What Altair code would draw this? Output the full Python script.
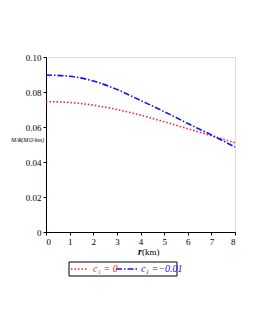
import altair as alt
import pandas as pd

r_vals = [0, 1, 2, 3, 4, 5, 6, 7, 8]
red_vals = [0.0745, 0.0740, 0.0725, 0.0700, 0.0668, 0.0630, 0.0590, 0.0550, 0.0510]
blue_vals = [0.0897, 0.0890, 0.0863, 0.0815, 0.0752, 0.0688, 0.0620, 0.0555, 0.0485]
series_names = ["c1 = 0", "c1 = -0.01"]
y_ticks = [0, 0.02, 0.04, 0.06, 0.08, 0.10]
x_ticks = [0, 1, 2, 3, 4, 5, 6, 7, 8]

rows = []
for r, a, b in zip(r_vals, red_vals, blue_vals):
    rows.append({"r": r, "v": a, "s": series_names[0]})
    rows.append({"r": r, "v": b, "s": series_names[1]})
df = pd.DataFrame(rows)

FONT = "Liberation Serif, Times New Roman, serif"

x = alt.X("r:Q", scale=alt.Scale(domain=[0, 8], nice=False),
          axis=alt.Axis(values=x_ticks, title=None, grid=False, labelFont=FONT,
                        labelFontSize=9, labelColor="black", domainColor="black",
                        tickColor="black", tickSize=3, labelPadding=2))
y = alt.Y("v:Q", scale=alt.Scale(domain=[0, 0.1], nice=False),
          axis=alt.Axis(values=y_ticks, title=None, grid=False, labelFont=FONT,
                        labelFontSize=9, labelColor="black", domainColor="black",
                        tickColor="black", tickSize=3, labelPadding=2,
                        labelExpr="datum.value == 0 ? '0' : format(datum.value, '.2f')"))

red = alt.Chart(df[df.s == series_names[0]]).mark_line(
    color="#ff2020", strokeDash=[1.5, 2], strokeWidth=1.6, interpolate="monotone"
).encode(x=x, y=y)
blue = alt.Chart(df[df.s == series_names[1]]).mark_line(
    color="#1010ff", strokeDash=[6, 2, 1.5, 2], strokeWidth=1.6, interpolate="monotone"
).encode(x=x, y=y)

one = pd.DataFrame({"a": [0]})
base = alt.Chart(one)

xtitle_r = base.mark_text(text="r", font=FONT, fontSize=10, fontStyle="italic",
                          fontWeight="bold", align="right", baseline="middle",
                          color="black").encode(x=alt.value(96), y=alt.value(195))
xtitle_km = base.mark_text(text=" (km)", font=FONT, fontSize=9, align="left",
                           baseline="middle", color="black").encode(x=alt.value(96), y=alt.value(195))
ytitle = base.mark_text(text="M/R(M\u2299/km)", font=FONT, fontSize=6, fontStyle="italic",
                        align="left", baseline="middle", color="black").encode(
    x=alt.value(-35), y=alt.value(83))

leg_box = base.mark_rect(fill="white", stroke="black", strokeWidth=1).encode(
    x=alt.value(23), x2=alt.value(131), y=alt.value(205), y2=alt.value(219))
leg_red = base.mark_rule(color="#ff2020", strokeDash=[1.5, 2], strokeWidth=1.6).encode(
    x=alt.value(25), x2=alt.value(41), y=alt.value(212))
leg_blue = base.mark_rule(color="#1010ff", strokeDash=[6, 2, 1.5, 2], strokeWidth=1.6).encode(
    x=alt.value(70), x2=alt.value(91), y=alt.value(212))
leg_red_t = base.mark_text(text="c\u2081 = 0", font=FONT, fontSize=10, fontStyle="italic",
                           align="left", baseline="middle", color="#ff2020").encode(
    x=alt.value(47), y=alt.value(212))
leg_blue_t = base.mark_text(text="c\u2081 =\u22120.01", font=FONT, fontSize=10, fontStyle="italic",
                            align="left", baseline="middle", color="#1010ff").encode(
    x=alt.value(95), y=alt.value(212))

chart = alt.layer(red, blue, xtitle_r, xtitle_km, ytitle, leg_box, leg_red, leg_blue,
                  leg_red_t, leg_blue_t).properties(
    width=189, height=175,
    autosize=alt.AutoSizeParams(type="none"),
    padding={"left": 38, "top": 49, "right": 12, "bottom": 90},
).configure_view(stroke="black", strokeWidth=1).configure(background="white")

chart.save("out.html", embed_options={"renderer": "svg", "actions": False})
